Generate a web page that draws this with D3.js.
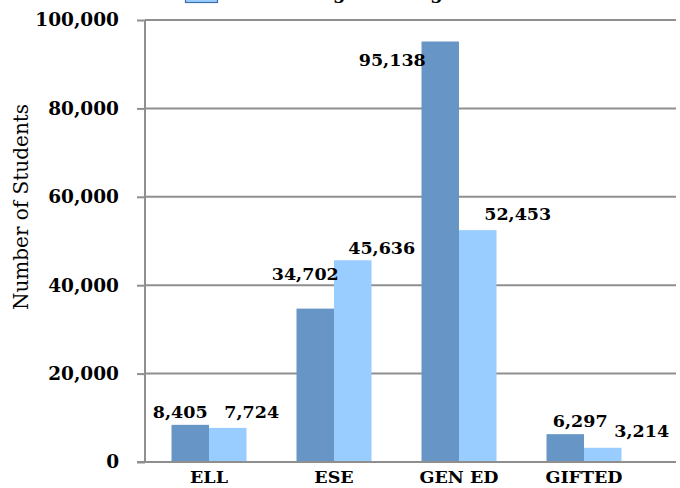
<!DOCTYPE html>
<html>
<head>
<meta charset="utf-8">
<script src="https://cdn.jsdelivr.net/npm/d3@7/dist/d3.min.js"></script>
<style>
  html, body { margin: 0; padding: 0; background: #fff; }
  svg { display: block; }
</style>
</head>
<body>
<svg id="chart" width="680" height="488"></svg>
<script>
// ---- data ----
const categories = ["ELL", "ESE", "GEN ED", "GIFTED"];
const seriesNames = ["Making Learning Gains", "Not Making Learning Gains"];
const makingGains = [8405, 34702, 95138, 6297];
const notMakingGains = [7724, 45636, 52453, 3214];
const yTicks = [0, 20000, 40000, 60000, 80000, 100000];
const yTitle = "Number of Students";

// ---- layout (not data) ----
const colors = ["#6795c6", "#99ccff"];
// manual label nudges [dx from bar centre, px above bar top] as placed in the original
const labelNudge = [
  [[-10, 7], [24, 10]],
  [[-10, 29], [29, 6]],
  [[-48, -25], [40, 10]],
  [[15, 7], [39, 11]]
];

const svg = d3.select("#chart");
const plot = { left: 145, right: 676, top: 20, bottom: 462 };
const font = "'DejaVu Serif', serif";

const y = d3.scaleLinear().domain([0, 100000]).range([plot.bottom, plot.top]);
const x0 = d3.scaleBand().domain(categories).range([146.5, 646.5])
  .paddingInner(0.4).paddingOuter(0.2);
const x1 = d3.scaleBand().domain([0, 1]).range([0, x0.bandwidth()]);

const series = [makingGains, notMakingGains];

// gridlines
svg.append("g").selectAll("line").data(yTicks.filter(d => d > 0)).join("line")
  .attr("x1", plot.left).attr("x2", plot.right)
  .attr("y1", d => y(d)).attr("y2", d => y(d))
  .attr("stroke", "#8f8f8f").attr("stroke-width", 2);

// y axis
const yAxis = d3.axisLeft(y).tickValues(yTicks).tickSize(8).tickPadding(18)
  .tickFormat(d3.format(","));
const ya = svg.append("g").attr("transform", `translate(${plot.left},0)`).call(yAxis);
ya.select(".domain").attr("stroke", "#8f8f8f").attr("stroke-width", 2)
  .attr("d", `M0,${plot.top}V${plot.bottom}`);
ya.selectAll(".tick line").attr("stroke", "#8f8f8f").attr("stroke-width", 2);
ya.selectAll(".tick text").attr("font-family", font).attr("font-weight", "bold")
  .attr("font-size", 18.5).attr("fill", "#000");

// bars
const groups = svg.append("g").selectAll("g").data(categories).join("g")
  .attr("transform", d => `translate(${x0(d)},0)`);
groups.selectAll("rect")
  .data((c, i) => series.map((s, k) => ({ k, v: s[i] })))
  .join("rect")
  .attr("x", d => x1(d.k)).attr("width", x1.bandwidth())
  .attr("y", d => y(d.v)).attr("height", d => y(0) - y(d.v))
  .attr("fill", d => colors[d.k]);

// x axis line
svg.append("line").attr("x1", plot.left - 8).attr("x2", plot.right)
  .attr("y1", plot.bottom).attr("y2", plot.bottom)
  .attr("stroke", "#8f8f8f").attr("stroke-width", 2);

// category labels
const xAxis = d3.axisBottom(x0).tickSize(0).tickPadding(0);
const xa = svg.append("g").attr("transform", `translate(0,${plot.bottom})`).call(xAxis);
xa.select(".domain").remove();
xa.selectAll(".tick text").attr("font-family", font).attr("font-weight", "bold")
  .attr("font-size", 17.5).attr("fill", "#000").attr("dy", null).attr("y", 21);

// value labels
groups.each(function (c, i) {
  d3.select(this).selectAll("text.val")
    .data(series.map((s, k) => ({ k, v: s[i], n: labelNudge[i][k] })))
    .join("text").attr("class", "val")
    .attr("x", d => x1(d.k) + x1.bandwidth() / 2 + d.n[0])
    .attr("y", d => y(d.v) - d.n[1])
    .attr("text-anchor", "middle")
    .attr("font-family", font).attr("font-weight", "bold").attr("font-size", 17.5)
    .text(d => d3.format(",")(d.v));
});

// y title
svg.append("text")
  .attr("transform", "translate(28,207) rotate(-90)")
  .attr("text-anchor", "middle")
  .attr("font-family", font).attr("font-size", 20)
  .text(yTitle);

// legend (mostly above the visible area, as in the original)
const legend = svg.append("g");
seriesNames.forEach((name, k) => {
  const top = -13 - (1 - k) * 26;
  legend.append("rect").attr("x", 185.5).attr("y", top).attr("width", 32).attr("height", 15.5)
    .attr("fill", colors[k]).attr("stroke", "#3c6fa8").attr("stroke-width", 1.2);
  legend.append("text").attr("x", 226).attr("y", top + 12)
    .attr("font-family", font).attr("font-weight", "bold").attr("font-size", 18)
    .text(name);
});
</script>
</body>
</html>
